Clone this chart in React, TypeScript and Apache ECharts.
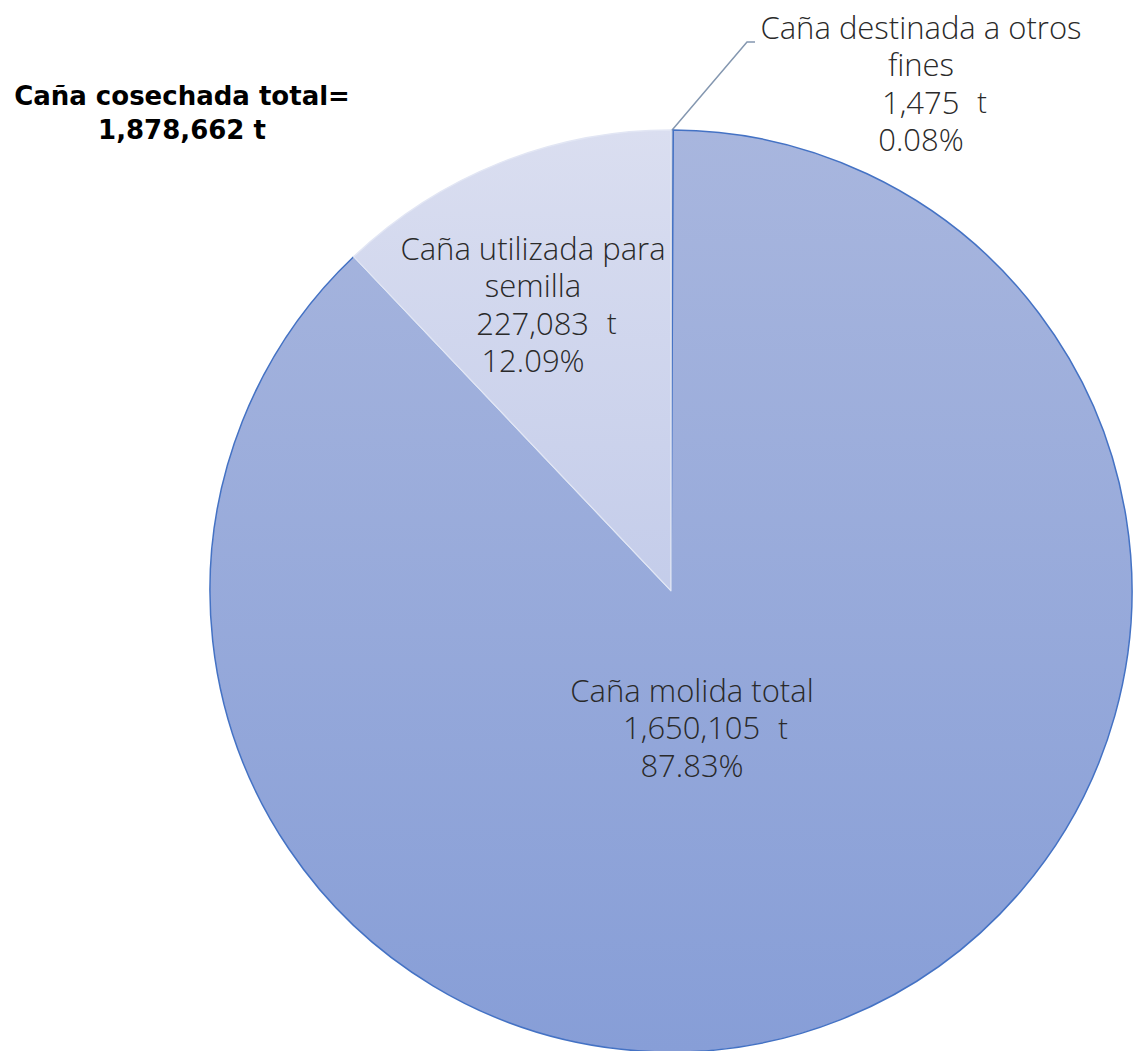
import React, { useEffect, useRef } from "react";
import * as echarts from "echarts";

const categories = [
  "Caña destinada a otros fines",
  "Caña molida total",
  "Caña utilizada para semilla",
];
const nameLines = [
  ["Caña destinada a otros", "fines"],
  ["Caña molida total"],
  ["Caña utilizada para", "semilla"],
];
const values = [1475, 1650105, 227083];
const percents = ["0.08%", "87.83%", "12.09%"];
const unit = "t";
const titleLines = ["Caña cosechada total=", "1,878,662 t"];

const FONT = "'Open Sans', 'Noto Sans', sans-serif";
const TITLE_FONT = "'DejaVu Sans', 'Open Sans', sans-serif";

export default function App() {
  const ref = useRef<HTMLDivElement>(null);
  useEffect(() => {
    if (!ref.current) return;
    const chart = echarts.init(ref.current, null, { renderer: "svg" });
    const cx = 671;
    const cy = 591;
    const r = 461;
    const sum = values.reduce((a, b) => a + b, 0);
    const midAng = ((90 - (360 * values[0]) / 2 / sum) * Math.PI) / 180;
    const sx = cx + r * Math.cos(midAng);
    const sy = cy - r * Math.sin(midAng);

    const labelPos = [
      { x: 921, y: 8 },
      { x: 692, y: 671 },
      { x: 533, y: 229 },
    ];

    const fills = [
      { top: "#c3cbe8", bottom: "#a9b6e0" },
      { top: "#a8b6de", bottom: "#879ed7" },
      { top: "#dadef0", bottom: "#aebbe4" },
    ];
    const borders = [
      { color: "#8497b0", width: 1 },
      { color: "#4472c4", width: 1.5 },
      { color: "#e2e6f4", width: 1.5 },
    ];

    const grad = (i: number) =>
      new echarts.graphic.LinearGradient(
        0,
        cy - r,
        0,
        cy + r,
        [
          { offset: 0, color: fills[i].top },
          { offset: 1, color: fills[i].bottom },
        ],
        true
      );

    const fmt = (v: number) => v.toLocaleString("en-US");

    const data = categories.map((name, i) => ({
      name,
      value: values[i],
      itemStyle: {
        color: grad(i),
        borderColor: borders[i].color,
        borderWidth: borders[i].width,
      },
      label: {
        position: i === 0 ? "outside" : "inside",
      },
      labelLine: {
        show: i === 0,
        lineStyle: { color: "#8497b0", width: 1.5 },
      },
    }));

    const base = {
      fontFamily: FONT,
      fontSize: 31,
      fontWeight: 350,
      lineHeight: 37.5,
      color: "#2a2a2a",
    };

    const option: any = {
      animation: false,
      backgroundColor: "#ffffff",
      graphic: [
        {
          type: "text",
          x: 182,
          y: 79,
          silent: true,
          style: {
            text: titleLines.join("\n"),
            fill: "#000000",
            fontFamily: TITLE_FONT,
            fontSize: 26,
            fontWeight: "bold",
            textAlign: "center",
            textVerticalAlign: "top",
            lineHeight: 34,
          },
        },
      ],
      series: [
        {
          type: "pie",
          center: [cx, cy],
          radius: [0, r],
          startAngle: 90,
          clockwise: true,
          silent: true,
          emphasis: { disabled: true },
          avoidLabelOverlap: false,
          data,
          label: {
            show: true,
            ...base,
            align: "center",
            formatter: (p: any) => {
              const i = p.dataIndex;
              const lines = nameLines[i].map((l) => `{n|${l}}`);
              lines.push(`{v|${fmt(values[i])}}{u|${unit}}`);
              lines.push(`{n|${percents[i]}}`);
              return lines.join("\n");
            },
            rich: {
              n: { ...base },
              v: { ...base, padding: [0, 18, 0, 27] },
              u: { ...base, fontSize: 29 },
            },
          },
          labelLayout: (params: any) => {
            const i = params.dataIndex;
            const res: any = {
              x: labelPos[i].x,
              y: labelPos[i].y,
              align: "center",
              verticalAlign: "top",
            };
            if (i === 0) {
              res.labelLinePoints = [
                [sx, sy],
                [747, 42],
                [755, 42],
              ];
            }
            return res;
          },
        },
      ],
    };
    chart.setOption(option);
    return () => chart.dispose();
  }, []);
  return (
    <div
      ref={ref}
      style={{ position: "fixed", left: 0, top: 0, width: 1133, height: 1051 }}
    />
  );
}
